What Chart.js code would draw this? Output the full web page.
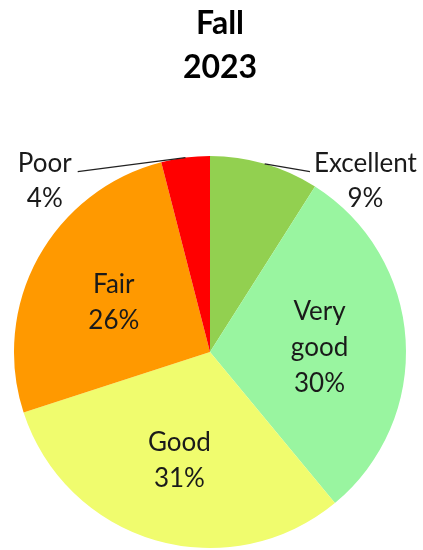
<!DOCTYPE html>
<html>
<head>
<meta charset="utf-8">
<script src="https://cdn.jsdelivr.net/npm/chart.js@4/dist/chart.umd.min.js"></script>
<style>
  body { margin: 0; background: #fff; }
  canvas { display: block; }
</style>
</head>
<body>
<canvas id="fallpie" width="423" height="550"></canvas>
<script>
var titleLines = ['Fall', '2023']
var labels = ['Excellent', 'Very good', 'Good', 'Fair', 'Poor']
var pct = [9, 30, 31, 26, 4]
var colors = ['#92D050', '#99F5A0', '#F0FC6E', '#FF9900', '#FF0000']
// which slices get their label outside with a leader line
var outside = [true, false, false, false, true]

var FONT = 'Lato, "Open Sans", sans-serif'

var pieLabels = {
    id: 'pieLabels',
    afterDraw: function (chart) {
        var ctx = chart.ctx
        // title
        ctx.save()
        ctx.fillStyle = '#000'
        ctx.font = 'bold 32px ' + FONT
        ctx.textAlign = 'center'
        ctx.textBaseline = 'middle'
        titleLines.forEach(function (t, i) {
            ctx.fillText(t, 220, 24 + i * 44)
        })
        ctx.restore()

        var meta = chart.getDatasetMeta(0)
        ctx.save()
        ctx.fillStyle = '#1a1a1a'
        ctx.strokeStyle = '#222'
        ctx.lineWidth = 1.3
        ctx.font = '26px ' + FONT
        ctx.textBaseline = 'middle'
        ctx.textAlign = 'center'
        meta.data.forEach(function (arc, i) {
            var p = arc.getProps(['x', 'y', 'startAngle', 'endAngle', 'outerRadius'], true)
            var mid = (p.startAngle + p.endAngle) / 2
            var r = p.outerRadius
            var lines = labels[i].split(' ')
            lines.push(pct[i] + '%')
            if (!outside[i]) {
                var lx = p.x + Math.cos(mid) * r * 0.56
                var ly = p.y + Math.sin(mid) * r * 0.56 + 3
                var h = 36
                lines.forEach(function (s, k) {
                    ctx.fillText(s, lx, ly + (k - (lines.length - 1) / 2) * h)
                })
            } else {
                var ex = p.x + Math.cos(mid) * r
                var ey = p.y + Math.sin(mid) * r
                var right = Math.cos(mid) >= 0
                var endX = right ? p.x + r * 0.51 : p.x - r * 0.675
                var endY = p.y - r * 0.92
                ctx.beginPath()
                ctx.moveTo(ex, ey)
                ctx.lineTo(endX, endY)
                ctx.stroke()
                var first = labels[i]
                var w = ctx.measureText(first).width
                var cxText = right ? endX + 4 + w / 2 : endX - 6 - w / 2
                ctx.fillText(first, cxText, endY - 8)
                ctx.fillText(pct[i] + '%', cxText, endY + 27)
            }
        })
        ctx.restore()
    }
}

var ctx = document.getElementById('fallpie').getContext('2d')
var chart = new Chart(ctx, {
    type: 'pie',
    data: {
        labels: labels,
        datasets: [{
            data: pct,
            backgroundColor: colors,
            borderWidth: 0
        }]
    },
    options: {
        responsive: false,
        animation: false,
        layout: { padding: { left: 14, right: 17, top: 156, bottom: 2 } },
        plugins: {
            legend: { display: false },
            tooltip: { enabled: false }
        }
    },
    plugins: [pieLabels]
})
</script>
</body>
</html>
